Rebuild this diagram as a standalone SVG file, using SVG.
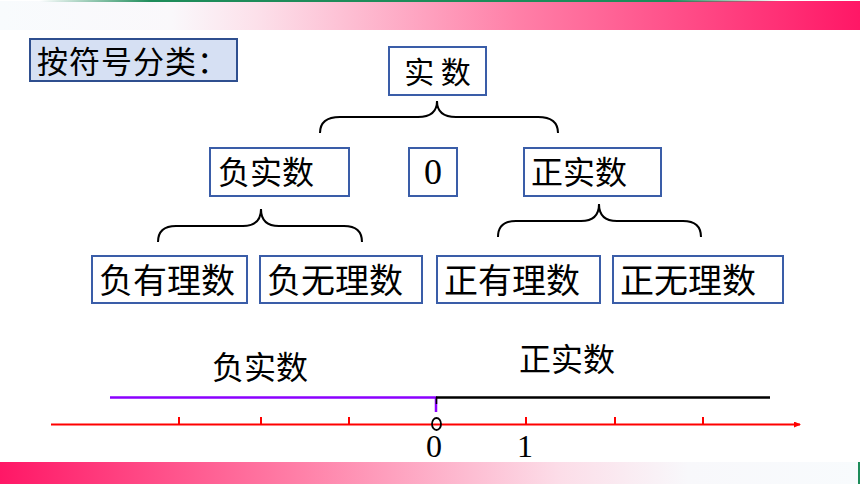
<svg xmlns="http://www.w3.org/2000/svg" width="860" height="484" viewBox="0 0 860 484">
<defs>
<linearGradient id="gTop" x1="0" y1="0" x2="1" y2="0">
<stop offset="0" stop-color="#F8FBFD"/>
<stop offset="0.2" stop-color="#FAF8FB"/>
<stop offset="0.3" stop-color="#FCE0EA"/>
<stop offset="0.6" stop-color="#FF80A8"/>
<stop offset="1" stop-color="#FF1766"/>
</linearGradient>
<linearGradient id="gBot" x1="0" y1="0" x2="1" y2="0">
<stop offset="0" stop-color="#FF1766"/>
<stop offset="0.35" stop-color="#FF80A8"/>
<stop offset="0.65" stop-color="#FCDDE8"/>
<stop offset="0.8" stop-color="#F8F8FB"/>
<stop offset="1" stop-color="#F8FBFD"/>
</linearGradient>
<linearGradient id="gGreen" x1="0" y1="0" x2="1" y2="0">
<stop offset="0" stop-color="#1E8C5A" stop-opacity="0"/>
<stop offset="0.15" stop-color="#1E8C5A"/>
<stop offset="0.85" stop-color="#1E8C5A"/>
<stop offset="1" stop-color="#1E8C5A" stop-opacity="0"/>
</linearGradient>
<marker id="arr" markerWidth="8" markerHeight="8" refX="6" refY="3" orient="auto" markerUnits="userSpaceOnUse">
<path d="M0,0 L7,3 L0,6 Z" fill="#FF0000"/>
</marker>
</defs>
<style>
.box{fill:#FFFFFF;stroke:#3A5DA8;stroke-width:2}
.tbox{fill:#D6E0F3;stroke:#2F4F8F;stroke-width:2}
.zh{font-family:"Noto Sans CJK SC","Noto Sans",sans-serif;fill:#000}
.num{font-family:"Liberation Serif","Times New Roman",serif;fill:#000}
.brace{fill:none;stroke:#000;stroke-width:2}
.tick{stroke:#FF0000;stroke-width:2}
</style>
<rect x="0" y="0" width="860" height="484" fill="#FFFFFF"/>
<rect x="0" y="1" width="860" height="29" fill="url(#gTop)"/>
<rect x="40" y="0" width="740" height="2" fill="url(#gGreen)"/>
<rect x="0" y="462" width="860" height="22" fill="url(#gBot)"/>
<rect x="858" y="462" width="2" height="22" fill="#1E8C5A"/>

<g id="title">
<rect class="tbox" x="30" y="39" width="207" height="42"/>
<text class="zh" x="37" y="73" font-size="31" letter-spacing="1">按符号分类：</text>
</g>
<g id="real">
<rect class="box" x="389" y="47" width="97" height="48"/>
<text class="zh" x="437.5" y="83" font-size="30" text-anchor="middle">实 数</text>
</g>
<g id="negReal">
<rect class="box" x="210" y="148" width="139" height="48"/>
<text class="zh" x="218" y="184" font-size="32">负实数</text>
</g>
<g id="zero">
<rect class="box" x="409" y="148" width="48" height="48"/>
<text class="num" x="433" y="184" font-size="36" text-anchor="middle">0</text>
</g>
<g id="posReal">
<rect class="box" x="524" y="148" width="137" height="48"/>
<text class="zh" x="531" y="184" font-size="32">正实数</text>
</g>
<g id="negRat">
<rect class="box" x="92" y="256" width="155" height="47"/>
<text class="zh" x="99" y="293" font-size="34">负有理数</text>
</g>
<g id="negIrr">
<rect class="box" x="260" y="256" width="162" height="47"/>
<text class="zh" x="267" y="293" font-size="34">负无理数</text>
</g>
<g id="posRat">
<rect class="box" x="437" y="256" width="163" height="47"/>
<text class="zh" x="444" y="293" font-size="34">正有理数</text>
</g>
<g id="posIrr">
<rect class="box" x="613" y="256" width="170" height="47"/>
<text class="zh" x="620" y="293" font-size="34">正无理数</text>
</g>

<g id="connectors">
<path class="brace" d="M320,133 Q320,117 340,117 L418,117 Q437,117 437,101 Q437,117 456,117 L538,117 Q558,117 558,133"/>
<path class="brace" d="M158,242 Q158,226 176,226 L243,226 Q261,226 261,209 Q261,226 279,226 L344,226 Q362,226 362,242"/>
<path class="brace" d="M498,237 Q498,221 516,221 L581,221 Q599,221 599,204 Q599,221 617,221 L683,221 Q701,221 701,237"/>
</g>

<g id="numberline">
<line x1="51" y1="424.5" x2="800" y2="424.5" stroke="#FF0000" stroke-width="2" marker-end="url(#arr)"/>
<line class="tick" x1="179" y1="417" x2="179" y2="424"/>
<line class="tick" x1="261" y1="417" x2="261" y2="424"/>
<line class="tick" x1="349" y1="417" x2="349" y2="424"/>
<line class="tick" x1="526" y1="417" x2="526" y2="424"/>
<line class="tick" x1="615" y1="417" x2="615" y2="424"/>
<line class="tick" x1="703" y1="417" x2="703" y2="424"/>
<ellipse cx="436.5" cy="424" rx="4.5" ry="6" fill="none" stroke="#000" stroke-width="1.8"/>
<polyline points="110,397.5 436,397.5 436,412" fill="none" stroke="#8B00FF" stroke-width="2.5"/>
<line x1="436" y1="397.5" x2="770" y2="397.5" stroke="#000" stroke-width="2.5"/>
<line x1="436.5" y1="397" x2="436.5" y2="404" stroke="#000" stroke-width="1.5"/>
<text class="zh" x="212" y="379" font-size="32">负实数</text>
<text class="zh" x="519" y="371" font-size="32">正实数</text>
<text class="num" x="434" y="457" font-size="32" text-anchor="middle">0</text>
<text class="num" x="525" y="457" font-size="32" text-anchor="middle">1</text>
</g>
</svg>
